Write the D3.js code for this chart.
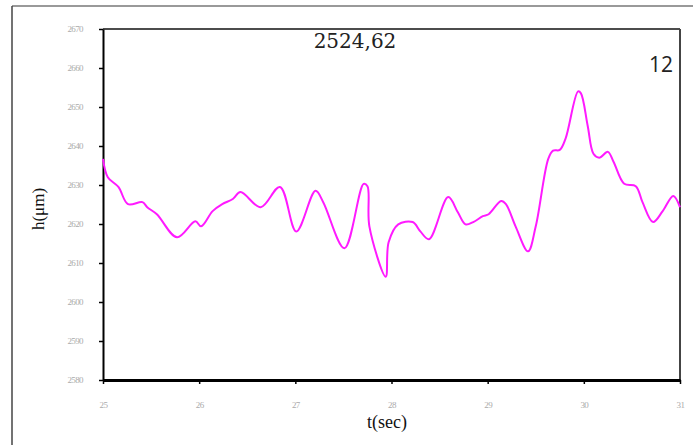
<!DOCTYPE html>
<html><head><meta charset="utf-8">
<script src="https://cdn.jsdelivr.net/npm/d3@7"></script>
<style>body{margin:0;background:#fff}svg{display:block}</style>
</head><body><svg id="c" width="693" height="445"></svg>
<script>
const tVals = [25.00,25.05,25.16,25.26,25.41,25.46,25.56,25.77,25.96,26.02,26.14,26.24,26.35,26.43,26.64,26.84,27.01,27.21,27.29,27.51,27.71,27.75,27.77,27.94,27.97,28.07,28.22,28.30,28.39,28.59,28.69,28.77,28.85,28.95,29.01,29.14,29.19,29.29,29.42,29.50,29.63,29.68,29.75,29.81,29.94,29.97,30.04,30.10,30.16,30.25,30.31,30.42,30.54,30.61,30.72,30.82,30.93,31.00];
const hVals = [2636.7,2632.0,2629.5,2625.1,2625.6,2624.3,2622.5,2616.6,2620.7,2619.4,2623.3,2625.1,2626.4,2628.2,2624.3,2629.5,2618.1,2628.5,2625.6,2613.8,2630.3,2629.7,2619.4,2606.5,2615.3,2619.9,2620.5,2618.1,2616.1,2626.9,2623.0,2619.9,2620.5,2622.0,2622.5,2625.9,2625.1,2619.4,2613.0,2619.4,2636.7,2638.8,2639.0,2641.9,2654.0,2653.5,2645.2,2638.0,2637.0,2638.5,2635.9,2630.3,2629.7,2625.6,2620.5,2623.3,2627.2,2624.3];
const xTicks = [25,26,27,28,29,30,31];
const yTicks = [2580,2590,2600,2610,2620,2630,2640,2650,2660,2670];
const annMain = "2524,62";
const annCorner = "12";
const xTitle = "t(sec)";
const yTitle = "h(μm)";

const svg = d3.select("#c");
const L = 103, R = 680, T = 29, B = 380;
const x = d3.scaleLinear().domain([25,31]).range([L,R]);
const y = d3.scaleLinear().domain([2580,2670]).range([B,T]);

// outer frame
svg.append("line").attr("x1",12).attr("y1",6).attr("x2",693).attr("y2",6).attr("stroke","#777").attr("stroke-width",1.5);
svg.append("line").attr("x1",12).attr("y1",6).attr("x2",12).attr("y2",445).attr("stroke","#444").attr("stroke-width",1.5);

// plot border top/right
svg.append("line").attr("x1",L).attr("y1",T).attr("x2",R).attr("y2",T).attr("stroke","#111").attr("stroke-width",1.3);
svg.append("line").attr("x1",R).attr("y1",T).attr("x2",R).attr("y2",B+2).attr("stroke","#444").attr("stroke-width",2);

const fmt = d3.format("d");
// axes
const yAxis = svg.append("g").attr("transform",`translate(${L},0)`)
  .call(d3.axisLeft(y).tickValues(yTicks).tickFormat(fmt).tickSize(4).tickSizeOuter(0).tickPadding(16));
yAxis.select(".domain").attr("stroke","#000").attr("stroke-width",2);
yAxis.selectAll(".tick line").attr("stroke","#000").attr("stroke-width",1.5);
yAxis.selectAll("text").attr("fill","#aaa").attr("font-family","Liberation Serif, serif").attr("font-size",9).attr("letter-spacing","-0.6");

const xAxis = svg.append("g").attr("transform",`translate(0,${B})`)
  .call(d3.axisBottom(x).tickValues(xTicks).tickFormat(fmt).tickSize(4).tickSizeOuter(0).tickPadding(18));
xAxis.select(".domain").attr("stroke","#000").attr("stroke-width",3);
xAxis.selectAll(".tick line").attr("stroke","#000").attr("stroke-width",1.5);
xAxis.selectAll("text").attr("fill","#aaa").attr("font-family","Liberation Serif, serif").attr("font-size",9).attr("letter-spacing","-0.6");

// curve
const pts = tVals.map((t,i)=>[t,hVals[i]]);
svg.append("path").datum(pts)
  .attr("d", d3.line().x(d=>x(d[0])).y(d=>y(d[1])).curve(d3.curveCatmullRom.alpha(0.5)))
  .attr("fill","none").attr("stroke","#ff1aff").attr("stroke-width",2);

// annotations
svg.append("text").attr("x",355).attr("y",48).attr("text-anchor","middle")
  .attr("font-family","DejaVu Serif, serif").attr("font-size",20).attr("fill","#222").text(annMain);
svg.append("text").attr("x",673).attr("y",72).attr("text-anchor","end")
  .attr("font-family","Open Sans, sans-serif").attr("font-size",21).attr("fill","#222").text(annCorner);

// titles
svg.append("text").attr("x",387).attr("y",428).attr("text-anchor","middle")
  .attr("font-family","Liberation Serif, serif").attr("font-size",18).attr("fill","#111").text(xTitle);
svg.append("text").attr("transform","translate(44,209) rotate(-90)").attr("text-anchor","middle")
  .attr("font-family","Liberation Serif, serif").attr("font-size",17).attr("fill","#111").text(yTitle);
</script></body></html>
